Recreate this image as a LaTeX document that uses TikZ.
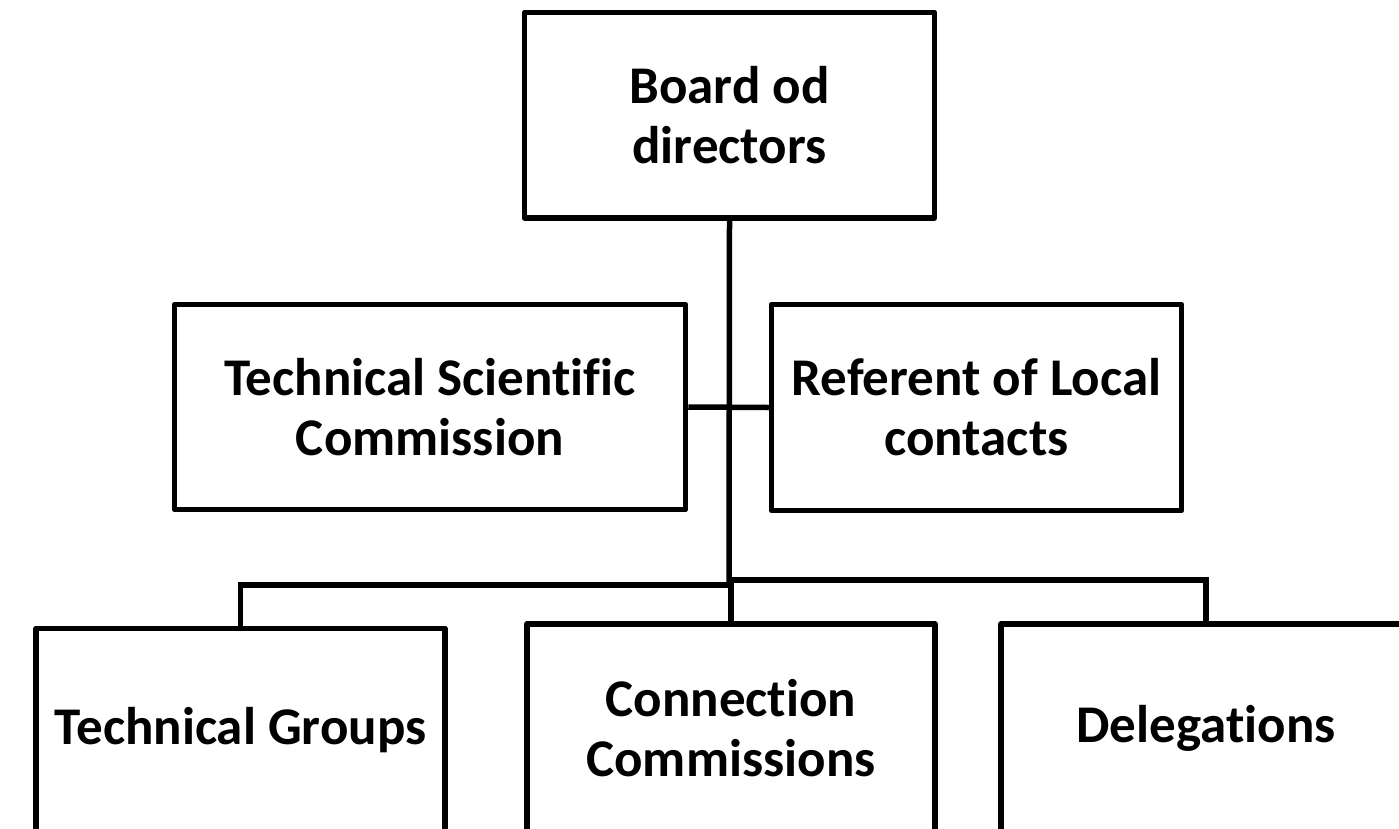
\documentclass[tikz,border=0pt]{standalone}
\usepackage{fontspec}
\setmainfont{Carlito}[Ligatures=CommonOff]
\begin{document}
\begin{tikzpicture}[x=1pt,y=-1pt,
  box/.style={draw=black, line width=5.5pt, line join=round, fill=white, inner sep=0pt,
    align=center, font=\bfseries\fontsize{53}{60}\selectfont},
  link/.style={draw=black, line width=5.5pt}]
\useasboundingbox[fill=white] (0,0) rectangle (1399,828);
\node[box, minimum width=410pt, minimum height=205.5pt] (board) at (729.5,115.25) {Board od\\directors};
\node[box, minimum width=511pt, minimum height=205pt] (tsc) at (430,407) {Technical Scientific\\Commission};
\node[box, minimum width=410pt, minimum height=206pt] (rlc) at (976.5,407.5) {Referent of Local\\contacts};
\node[box, minimum width=409pt, minimum height=204pt] (tg) at (240.5,730.5) {Technical Groups};
\node[box, minimum width=408pt, minimum height=208pt] (cc) at (731,728) {Connection\\Commissions};
\node[box, minimum width=410pt, minimum height=208pt] (del) at (1206,728) {Delegations};
\coordinate (jL) at (729,585);
\coordinate (jC) at (731,583);
\coordinate (jR) at (731,580);
\draw[link] (board.south) -- (jL);
\draw[link] (tsc.east) -- (rlc.west);
\draw[link] (tg.north) |- (jL);
\draw[link] (cc.north) -- (jC);
\draw[link] (del.north) |- (jR);
\end{tikzpicture}
\end{document}
